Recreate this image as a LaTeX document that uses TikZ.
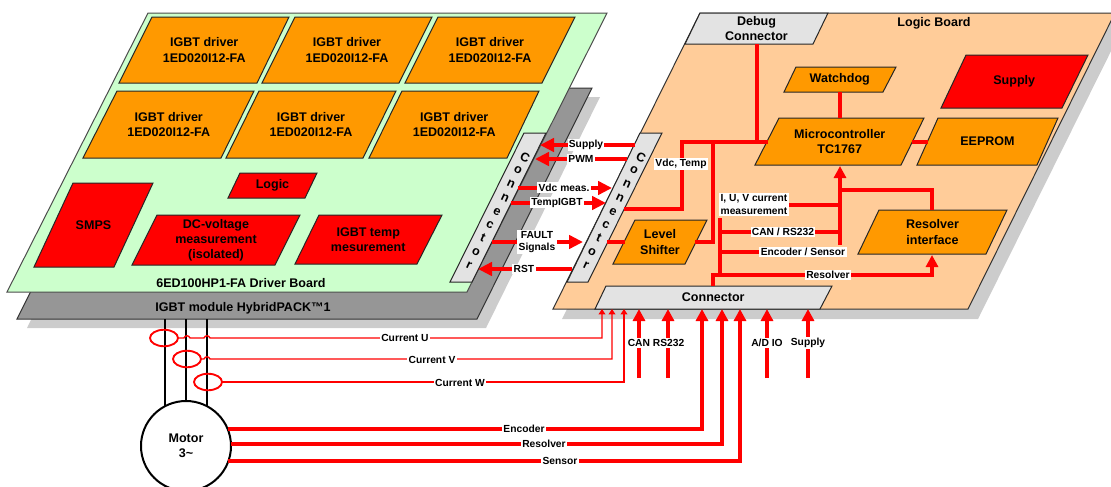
\documentclass[tikz,border=0pt]{standalone}
\usepackage{fontspec}
\setmainfont{Liberation Sans}
\usetikzlibrary{shapes.geometric,arrows.meta}
\newcommand{\bigf}{\fontsize{9.4}{11.3}\selectfont\bfseries}
\newcommand{\smf}{\fontsize{7.7}{9.4}\selectfont\bfseries}
\definecolor{orangeb}{HTML}{FF9900}
\definecolor{greenb}{HTML}{CCFFCC}
\definecolor{peachb}{HTML}{FFCC99}
\definecolor{darkg}{HTML}{969696}
\definecolor{lightg}{HTML}{CCCCCC}
\definecolor{connb}{HTML}{E3E3E3}
\tikzset{
  edge/.style={draw=black!85, line width=.75pt, line join=miter},
  orangebox/.style={edge, fill=orangeb},
  redbox/.style={edge, fill=red},
  connbox/.style={edge, fill=connb},
  plain/.style={inner sep=0pt, outer sep=0pt, align=center, font=\bigf},
  lab/.style={fill=white, inner sep=1pt, outer sep=0pt, align=center, font=\smf},
  wire/.style={draw=red, line width=2.6pt, line join=miter},
  thin wire/.style={draw=red, line width=1pt},
  medwire/.style={draw=red, line width=2.4pt},
  arr/.style={wire, -{Triangle[length=10.5pt,width=10pt]}},
  varr/.style={wire, -{Triangle[length=9pt,width=9pt]}},
  tarr/.style={thin wire, -{Triangle[length=4pt,width=5pt]}},
  phase/.style={draw=black, line width=1.5pt},
  sensorring/.style={ellipse, draw=red, line width=1.4pt, inner sep=0pt, outer sep=0pt,
    minimum width=28*.75pt, minimum height=16.5*.75pt},
  letter/.style={inner sep=0pt, outer sep=0pt, font=\bigf}
}
% name, style, top-left x, top-right x, bottom-right x, bottom-left x, top y, bottom y, text
\newcommand{\pbox}[9]{%
  \draw[#2] (#3,#7) -- (#4,#7) -- (#5,#8) -- (#6,#8) -- cycle;
  \node[plain] (#1) at ({(#3+#4+#5+#6)/4},{(#7+#8)/2}) {#9};}
\begin{document}
\begin{tikzpicture}[x=.75pt,y=-.75pt]
\path[use as bounding box] (0,0) rectangle (1111,486);
\clip (0,0) rectangle (1111,486);
% background plates
\fill[lightg] (600,97) -- (486,328) -- (27,328) -- (142,97) -- cycle;
\fill[darkg] (592,88) -- (477,319) -- (17,319) -- (132,88) -- cycle;
\draw[black!80,line width=.75pt] (592,88) -- (477,319) -- (17,319) -- (132,88) -- cycle;
\fill[greenb] (148,13) -- (607,13) -- (467,292) -- (7,292) -- cycle;
\draw[black!70,line width=.75pt] (148,13) -- (607,13) -- (467,292) -- (7,292) -- cycle;
\fill[lightg] (710,23) -- (1125,23) -- (978,319) -- (562,319) -- cycle;
\fill[peachb] (700,13) -- (1115,13) -- (968,309) -- (553,309) -- cycle;
\draw[black!80,line width=.75pt] (700,13) -- (1115,13) -- (968,309) -- (553,309) -- cycle;

% driver board blocks
\pbox{d11}{orangebox}{152}{289}{257}{119}{17}{83}{IGBT driver\\1ED020I12-FA}
\pbox{d12}{orangebox}{295}{432}{399}{262}{17}{83}{IGBT driver\\1ED020I12-FA}
\pbox{d13}{orangebox}{438}{575}{542}{405}{17}{83}{IGBT driver\\1ED020I12-FA}
\pbox{d21}{orangebox}{117}{254}{221}{83}{91}{158}{IGBT driver\\1ED020I12-FA}
\pbox{d22}{orangebox}{259}{396}{363}{226}{91}{158}{IGBT driver\\1ED020I12-FA}
\pbox{d23}{orangebox}{402}{539}{507}{369}{91}{158}{IGBT driver\\1ED020I12-FA}
\pbox{logicb}{redbox}{240}{317}{305}{228}{173}{198}{Logic}
\pbox{smps}{redbox}{73}{153}{114}{34}{183}{267}{SMPS}
\pbox{dcv}{redbox}{157}{300}{275}{132}{215}{265}{DC-voltage\\measurement\\(isolated)}
\pbox{tempm}{redbox}{319}{442}{417}{295}{215}{264}{IGBT temp\\mesurement}
\node[plain] (dbl) at (241,283) {6ED100HP1-FA Driver Board};
\node[plain] (mod) at (243,308) {IGBT module HybridPACK™1};
\pbox{connL}{connbox}{524}{546}{472}{450}{133}{282}{}

% logic board blocks
\pbox{debug}{connbox}{700}{828}{813}{685}{13}{44}{Debug\\Connector}
\node[plain] (lbl) at (934,23) {Logic Board};
\pbox{wd}{orangebox}{796}{896}{883}{784}{67}{92}{Watchdog}
\pbox{mcu}{orangebox}{779}{924}{901}{755}{118}{165}{Microcontroller\\TC1767}
\pbox{eeprom}{orangebox}{938}{1058}{1037}{917}{118}{165}{EEPROM}
\pbox{supplyb}{redbox}{966}{1088}{1062}{941}{55}{108}{Supply}
\pbox{resif}{orangebox}{879}{1007}{986}{858}{210}{254}{Resolver\\interface}
\pbox{level}{orangebox}{635}{707}{685}{613}{220}{264}{Level\\Shifter}
\pbox{connR}{connbox}{640}{662}{588}{567}{133}{282}{}
\pbox{connB}{connbox}{606}{832}{820}{595}{286}{309}{Connector}

% connector lettering
\foreach \l/\x/\y [count=\i] in {C/525/157,o/518/170,n/511/184,n/505/198,e/497/212,c/490/225,t/483/238,o/476/252,r/469/265}
  \node[letter,rotate=-25] (cl\i) at (\x,\y) {\l};
\foreach \l/\x/\y [count=\i] in {C/641/157,o/634/170,n/627/184,n/620/198,e/613/212,c/606/225,t/599/238,o/592/252,r/586/265}
  \node[letter,rotate=-25] (cr\i) at (\x,\y) {\l};

% coordinates of connector ends
\coordinate (sR) at (635,145); \coordinate (sL) at (540,145);
\coordinate (pR) at (627,159); \coordinate (pL) at (535,159);
\coordinate (vL) at (518,188); \coordinate (vR) at (612,188);
\coordinate (tL) at (511,203); \coordinate (tR) at (606,203);
\coordinate (fL) at (492,242); \coordinate (fR) at (583,242);
\coordinate (rR) at (572,269); \coordinate (rL) at (478,269);
\coordinate (vdcS) at (624,209);
\coordinate (lsL) at (607,242);
\coordinate (lsE) at (625,242);
\coordinate (lsR) at (695,242);
\coordinate (mcuL) at (768,142);
\coordinate (busL) at (682,142);
\coordinate (busJ) at (713,142);
\coordinate (dbgJ) at (757,142);
\coordinate (dbgB) at (757,44);
\coordinate (wdB) at (840,92);
\coordinate (mcuT) at (840,118);
\coordinate (mcuR) at (912,142);
\coordinate (eeL) at (928,142);
\coordinate (upB) at (840,245);
\coordinate (mcuB) at (840,166);
\coordinate (upJ) at (840,190);
\coordinate (iJ) at (840,205);
\coordinate (cJ) at (840,232);
\coordinate (eJ) at (840,252);
\coordinate (mB) at (720,218);
\coordinate (mJ) at (720,275);
\coordinate (cnT) at (713,286);
\coordinate (resB) at (932,255);
\coordinate (resT) at (932,210);

% board wiring
\draw[arr] (sR) -- (sL);
\draw[arr] (pR) -- (pL);
\draw[arr] (vL) -- (vR);
\draw[arr] (tL) -- (tR);
\draw[arr] (fL) -- (fR);
\draw[arr] (rR) -- (rL);
\draw[wire] (vdcS) -| (busL) -- (mcuL);
\draw[medwire] (lsL) -- (lsE);
\draw[wire] (lsR) -| (busJ);
\draw[wire] (dbgB) -- (dbgJ);
\draw[wire] (wdB) -- (mcuT);
\draw[wire] (mcuR) -- (eeL);
\draw[varr] (upB) -- (mcuB);
\draw[wire] (upJ) -| (resT);
\draw[wire] (mB) -- (mJ);
\draw[wire] (mB |- iJ) -- (iJ);
\draw[wire] (mB |- cJ) -- (cJ);
\draw[wire] (mB |- eJ) -- (eJ);
\draw[varr] (cnT) |- (mJ) -| (resB);

% motor and phases
\node[circle,draw=black,line width=1.5pt,fill=white,inner sep=0pt,outer sep=0pt,minimum size=90*.75pt,align=center,font=\bigf] (motor) at (186,446) {Motor\\3\textasciitilde};
\coordinate (ph1) at (165,319); \coordinate (ph2) at (186,319); \coordinate (ph3) at (207,319);
\draw[phase] (ph1) -- (165,406);
\draw[phase] (ph2) -- (186,401);
\draw[phase] (ph3) -- (207,406);
\node[sensorring] (ringU) at (164,338) {};
\node[sensorring] (ringV) at (187,359) {};
\node[sensorring] (ringW) at (208,382) {};
\coordinate (inU) at (602,309); \coordinate (inV) at (612,309); \coordinate (inW) at (624,309);
\coordinate (inE) at (702,309); \coordinate (inR) at (722,309); \coordinate (inS) at (740,309);
\draw[tarr] (ringU.east) -- (184,338) .. controls (185,335) and (189,335) .. (190,338) -- (204,338) .. controls (205,335) and (209,335) .. (210,338) -| (inU);
\draw[tarr] (ringV.east) -- (204,359) .. controls (205,356) and (209,356) .. (210,359) -| (inV);
\draw[tarr] (ringW.east) -| (inW);
\draw[varr] (228,429) -| (inE);
\draw[varr] (231,444) -| (inR);
\draw[varr] (228,461) -| (inS);
\coordinate (can) at (639,378); \coordinate (canT) at (639,309);
\coordinate (rs) at (668,378); \coordinate (rsT) at (668,309);
\coordinate (ad) at (767,378); \coordinate (adT) at (767,309);
\coordinate (sup) at (808,378); \coordinate (supT) at (808,309);
\draw[varr] (can) -- (canT);
\draw[varr] (rs) -- (rsT);
\draw[varr] (ad) -- (adT);
\draw[varr] (sup) -- (supT);

% labels
\node[lab] (lSupply) at (586,145) {Supply};
\node[lab] (lPWM) at (581,159) {PWM};
\node[lab] (lVdcm) at (564,187.5) {Vdc meas.};
\node[lab] (lTemp) at (557,202.5) {TempIGBT};
\node[lab] (lFault) at (537,242) {FAULT\\Signals};
\node[lab] (lRST) at (524,269) {RST};
\node[lab] (lVT) at (681,164) {Vdc, Temp};
\node[lab] (lIUV) at (754,204.5) {I, U, V current\\measurement};
\node[lab] (lCAN) at (783,232) {CAN / RS232};
\node[lab] (lEnc) at (803,252) {Encoder / Sensor};
\node[lab] (lRes) at (828,275) {Resolver};
\node[lab] (lCU) at (405,338) {Current U};
\node[lab] (lCV) at (432,360) {Current V};
\node[lab] (lCW) at (460,383) {Current W};
\node[lab] (lE) at (524,429) {Encoder};
\node[lab] (lR) at (544,444) {Resolver};
\node[lab] (lS) at (560,460.5) {Sensor};
\node[lab] (lCR) at (656,343) {CAN RS232};
\node[lab] (lAD) at (767,343) {A/D IO};
\node[lab] (lSu) at (808,343) {Supply};
\end{tikzpicture}
\end{document}
